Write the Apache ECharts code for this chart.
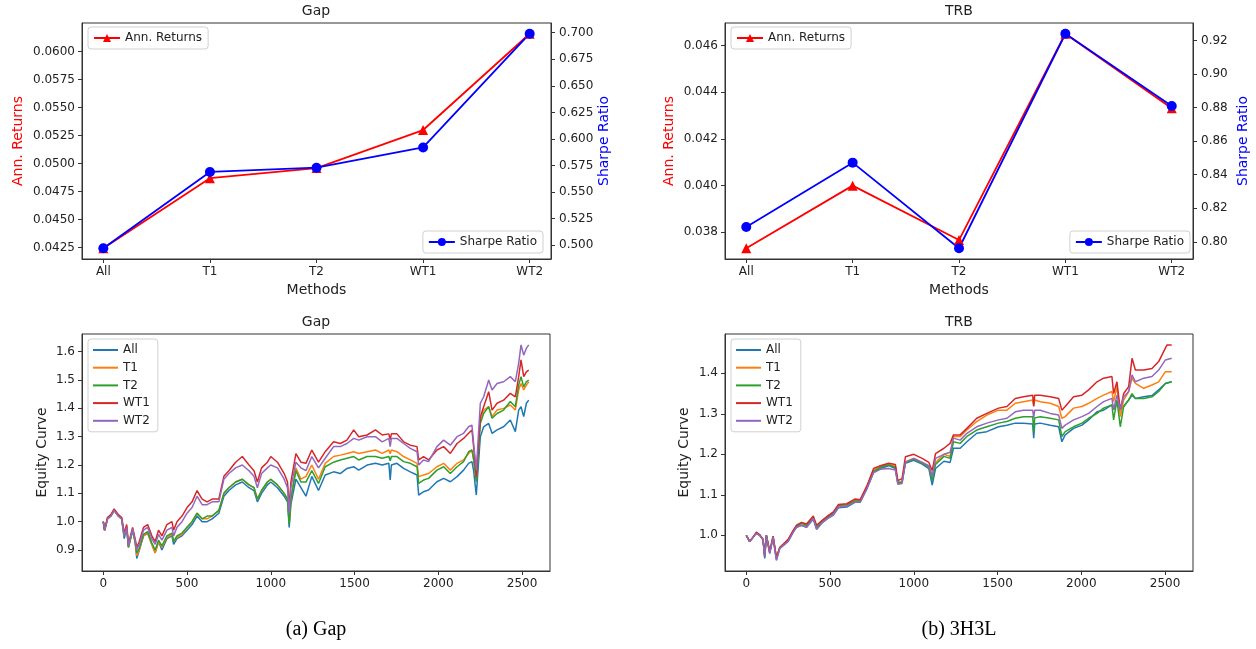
<!DOCTYPE html>
<html>
<head>
<meta charset="utf-8">
<script src="https://cdn.jsdelivr.net/npm/echarts@6/dist/echarts.min.js"></script>
<style>html,body{margin:0;padding:0;background:#fff;}#c{width:1256px;height:649px;}</style>
</head>
<body>
<div id="c"></div>
<script>
// ---------- data ----------
const methods = ['All', 'T1', 'T2', 'WT1', 'WT2'];
const gapRet = [0.04244, 0.0487, 0.0496, 0.0530, 0.0616];
const gapSharpe = [0.4972, 0.569, 0.573, 0.592, 0.699];
const trbRet = [0.03732, 0.0400, 0.03767, 0.0465, 0.04331];
const trbSharpe = [0.8089, 0.8472, 0.7962, 0.924, 0.8809];

const gapRetTicks = [0.0425, 0.045, 0.0475, 0.05, 0.0525, 0.055, 0.0575, 0.06];
const gapSharpeTicks = [0.5, 0.525, 0.55, 0.575, 0.6, 0.625, 0.65, 0.675, 0.7];
const trbRetTicks = [0.038, 0.040, 0.042, 0.044, 0.046];
const trbSharpeTicks = [0.80, 0.82, 0.84, 0.86, 0.88, 0.90, 0.92];
const methodTicks = [0, 1, 2, 3, 4];
const eqXTicks = [0, 500, 1000, 1500, 2000, 2500];
const gapEqTicks = [0.9, 1.0, 1.1, 1.2, 1.3, 1.4, 1.5, 1.6];
const trbEqTicks = [1.0, 1.1, 1.2, 1.3, 1.4];
const eqNames = ['All', 'T1', 'T2', 'WT1', 'WT2'];

const gapX = [0, 8, 25, 45, 65, 90, 110, 125, 140, 150,
  175, 190, 200, 215, 240, 265, 290, 310, 330, 350,
  380, 410, 420, 440, 470, 500, 530, 560, 590, 620,
  650, 690, 720, 750, 790, 830, 870, 900, 920, 945,
  980, 1000, 1040, 1080, 1100, 1110, 1120, 1150, 1180, 1210,
  1245, 1285, 1325, 1375, 1415, 1455, 1495, 1525, 1575, 1625,
  1665, 1705, 1713, 1720, 1753, 1793, 1833, 1873, 1883, 1912,
  1942, 1992, 2032, 2072, 2112, 2151, 2181, 2201, 2211, 2227,
  2251, 2271, 2301, 2321, 2351, 2390, 2430, 2460, 2480, 2494,
  2510, 2526, 2540];
const gapAll = [1.00, 0.97, 1.01, 1.02, 1.04, 1.02, 1.01, 0.94, 0.98, 0.91,
  0.97, 0.93, 0.87, 0.90, 0.95, 0.96, 0.92, 0.89, 0.93, 0.90,
  0.94, 0.95, 0.92, 0.94, 0.95, 0.97, 0.99, 1.02, 1.00, 1.00,
  1.01, 1.03, 1.09, 1.11, 1.13, 1.14, 1.12, 1.11, 1.07, 1.10,
  1.13, 1.14, 1.12, 1.09, 1.07, 0.98, 1.06, 1.15, 1.12, 1.09,
  1.16, 1.11, 1.165, 1.176, 1.17, 1.188, 1.194, 1.182, 1.20, 1.206,
  1.20, 1.206, 1.147, 1.20, 1.206, 1.188, 1.176, 1.165, 1.094, 1.106,
  1.112, 1.141, 1.153, 1.141, 1.159, 1.182, 1.206, 1.212, 1.18, 1.094,
  1.30, 1.335, 1.347, 1.312, 1.324, 1.335, 1.359, 1.318, 1.394, 1.406,
  1.371, 1.418, 1.429];
const gapT1 = [1.00, 0.97, 1.01, 1.02, 1.04, 1.02, 1.01, 0.95, 0.98, 0.91,
  0.97, 0.93, 0.88, 0.90, 0.95, 0.96, 0.92, 0.89, 0.93, 0.91,
  0.945, 0.955, 0.93, 0.945, 0.955, 0.98, 1.00, 1.03, 1.01, 1.01,
  1.02, 1.04, 1.10, 1.12, 1.14, 1.15, 1.13, 1.12, 1.08, 1.11,
  1.14, 1.15, 1.13, 1.10, 1.08, 1.00, 1.08, 1.19, 1.15, 1.16,
  1.20, 1.15, 1.206, 1.23, 1.235, 1.241, 1.247, 1.241, 1.247, 1.253,
  1.241, 1.253, 1.24, 1.253, 1.247, 1.23, 1.218, 1.206, 1.159, 1.165,
  1.17, 1.194, 1.206, 1.182, 1.206, 1.218, 1.241, 1.253, 1.22, 1.147,
  1.359, 1.394, 1.406, 1.371, 1.394, 1.40, 1.412, 1.394, 1.465, 1.488,
  1.465, 1.482, 1.494];
const gapT2 = [1.00, 0.97, 1.01, 1.02, 1.04, 1.02, 1.01, 0.95, 0.98, 0.91,
  0.97, 0.93, 0.89, 0.905, 0.955, 0.965, 0.925, 0.90, 0.935, 0.915,
  0.95, 0.96, 0.93, 0.95, 0.96, 0.98, 1.00, 1.03, 1.01, 1.02,
  1.02, 1.04, 1.10, 1.12, 1.14, 1.15, 1.13, 1.12, 1.08, 1.11,
  1.14, 1.15, 1.13, 1.10, 1.08, 0.99, 1.08, 1.18, 1.14, 1.14,
  1.18, 1.135, 1.194, 1.21, 1.218, 1.224, 1.23, 1.218, 1.23, 1.23,
  1.224, 1.23, 1.215, 1.23, 1.23, 1.212, 1.206, 1.194, 1.135, 1.147,
  1.153, 1.182, 1.194, 1.17, 1.194, 1.212, 1.247, 1.253, 1.22, 1.141,
  1.347, 1.382, 1.406, 1.365, 1.382, 1.394, 1.424, 1.406, 1.482, 1.512,
  1.476, 1.494, 1.50];
const gapWT1 = [1.00, 0.97, 1.015, 1.025, 1.045, 1.025, 1.015, 0.96, 0.99, 0.92,
  0.98, 0.94, 0.91, 0.93, 0.98, 0.99, 0.95, 0.93, 0.97, 0.95,
  0.99, 1.00, 0.97, 1.00, 1.02, 1.05, 1.07, 1.11, 1.08, 1.07,
  1.08, 1.08, 1.16, 1.18, 1.21, 1.23, 1.20, 1.18, 1.14, 1.19,
  1.21, 1.23, 1.21, 1.17, 1.14, 1.05, 1.14, 1.24, 1.21, 1.206,
  1.253, 1.21, 1.247, 1.282, 1.276, 1.288, 1.324, 1.30, 1.306, 1.324,
  1.306, 1.31, 1.29, 1.31, 1.31, 1.282, 1.27, 1.265, 1.218, 1.23,
  1.218, 1.253, 1.265, 1.241, 1.276, 1.294, 1.312, 1.324, 1.265, 1.159,
  1.37, 1.406, 1.459, 1.394, 1.418, 1.429, 1.453, 1.441, 1.512, 1.571,
  1.512, 1.529, 1.535];
const gapWT2 = [1.00, 0.97, 1.01, 1.02, 1.04, 1.02, 1.01, 0.95, 0.98, 0.915,
  0.975, 0.935, 0.90, 0.92, 0.97, 0.98, 0.94, 0.92, 0.955, 0.935,
  0.97, 0.98, 0.95, 0.98, 1.00, 1.03, 1.05, 1.09, 1.06, 1.06,
  1.07, 1.07, 1.15, 1.17, 1.19, 1.20, 1.18, 1.16, 1.12, 1.17,
  1.19, 1.20, 1.19, 1.15, 1.12, 1.03, 1.12, 1.21, 1.19, 1.18,
  1.23, 1.19, 1.224, 1.265, 1.265, 1.276, 1.294, 1.288, 1.30, 1.30,
  1.282, 1.294, 1.265, 1.294, 1.294, 1.276, 1.259, 1.247, 1.20, 1.218,
  1.212, 1.265, 1.288, 1.27, 1.30, 1.312, 1.335, 1.341, 1.276, 1.182,
  1.418, 1.441, 1.50, 1.465, 1.488, 1.494, 1.512, 1.494, 1.559, 1.624,
  1.588, 1.612, 1.624];

const trbX = [0, 20, 40, 60, 80, 100, 110, 120, 140, 160,
  180, 200, 250, 280, 300, 330, 360, 400, 420, 450,
  480, 520, 550, 600, 650, 680, 720, 760, 800, 850,
  890, 905, 930, 950, 1000, 1050, 1090, 1110, 1130, 1180,
  1217, 1237, 1277, 1317, 1376, 1436, 1506, 1556, 1606, 1655,
  1710, 1716, 1722, 1755, 1815, 1865, 1884, 1904, 1954, 2004,
  2044, 2094, 2133, 2183, 2193, 2213, 2233, 2253, 2283, 2303,
  2323, 2373, 2422, 2462, 2502, 2512, 2540];
const trbAll = [1.00, 0.985, 0.995, 1.005, 1.00, 0.99, 0.943, 1.00, 0.956, 0.995,
  0.94, 0.968, 0.985, 1.008, 1.02, 1.025, 1.02, 1.04, 1.015, 1.03,
  1.04, 1.05, 1.068, 1.07, 1.082, 1.082, 1.115, 1.155, 1.165, 1.172,
  1.165, 1.128, 1.13, 1.178, 1.185, 1.176, 1.165, 1.124, 1.165, 1.183,
  1.18, 1.215, 1.215, 1.231, 1.252, 1.256, 1.268, 1.272, 1.277, 1.277,
  1.275, 1.24, 1.275, 1.277, 1.272, 1.268, 1.231, 1.248, 1.264, 1.272,
  1.285, 1.305, 1.309, 1.322, 1.31, 1.326, 1.31, 1.318, 1.334, 1.346,
  1.338, 1.342, 1.345, 1.359, 1.375, 1.379, 1.379];
const trbT1 = [1.00, 0.985, 0.995, 1.006, 1.00, 0.99, 0.95, 1.00, 0.96, 0.997,
  0.945, 0.97, 0.988, 1.01, 1.022, 1.03, 1.025, 1.045, 1.02, 1.035,
  1.045, 1.055, 1.075, 1.076, 1.086, 1.086, 1.12, 1.16, 1.17, 1.176,
  1.17, 1.13, 1.133, 1.182, 1.19, 1.18, 1.17, 1.15, 1.18, 1.20,
  1.195, 1.244, 1.244, 1.26, 1.281, 1.297, 1.309, 1.309, 1.326, 1.33,
  1.334, 1.32, 1.334, 1.33, 1.326, 1.318, 1.289, 1.293, 1.314, 1.318,
  1.326, 1.338, 1.346, 1.355, 1.33, 1.367, 1.293, 1.334, 1.355, 1.388,
  1.375, 1.363, 1.371, 1.379, 1.404, 1.404, 1.404];
const trbT2 = [1.00, 0.985, 0.995, 1.006, 1.00, 0.99, 0.948, 1.00, 0.958, 0.996,
  0.943, 0.97, 0.988, 1.01, 1.022, 1.03, 1.024, 1.044, 1.02, 1.035,
  1.044, 1.056, 1.074, 1.075, 1.085, 1.085, 1.118, 1.158, 1.168, 1.174,
  1.168, 1.13, 1.132, 1.18, 1.188, 1.178, 1.17, 1.135, 1.175, 1.195,
  1.19, 1.231, 1.227, 1.244, 1.26, 1.268, 1.277, 1.281, 1.289, 1.293,
  1.293, 1.255, 1.29, 1.293, 1.289, 1.285, 1.244, 1.256, 1.268, 1.277,
  1.289, 1.301, 1.314, 1.322, 1.285, 1.334, 1.268, 1.318, 1.334, 1.35,
  1.338, 1.338, 1.342, 1.355, 1.375, 1.379, 1.379];
const trbWT1 = [1.00, 0.985, 0.995, 1.008, 1.002, 0.99, 0.95, 1.00, 0.96, 0.998,
  0.945, 0.97, 0.99, 1.012, 1.025, 1.032, 1.028, 1.048, 1.025, 1.036,
  1.046, 1.058, 1.076, 1.078, 1.09, 1.088, 1.122, 1.165, 1.172, 1.178,
  1.175, 1.135, 1.14, 1.194, 1.20, 1.19, 1.18, 1.16, 1.202, 1.215,
  1.227, 1.248, 1.248, 1.264, 1.289, 1.301, 1.314, 1.318, 1.338, 1.342,
  1.346, 1.318, 1.346, 1.346, 1.342, 1.338, 1.309, 1.318, 1.342, 1.346,
  1.359, 1.379, 1.388, 1.392, 1.35, 1.379, 1.309, 1.35, 1.367, 1.437,
  1.408, 1.408, 1.412, 1.429, 1.462, 1.47, 1.47];
const trbWT2 = [1.00, 0.985, 0.995, 1.005, 1.00, 0.99, 0.948, 1.00, 0.955, 0.995,
  0.938, 0.968, 0.985, 1.008, 1.02, 1.025, 1.02, 1.042, 1.015, 1.03,
  1.04, 1.052, 1.07, 1.072, 1.082, 1.082, 1.115, 1.155, 1.163, 1.165,
  1.161, 1.126, 1.128, 1.18, 1.19, 1.18, 1.172, 1.145, 1.19, 1.20,
  1.205, 1.24, 1.235, 1.252, 1.268, 1.277, 1.285, 1.289, 1.305, 1.309,
  1.309, 1.29, 1.309, 1.309, 1.301, 1.297, 1.264, 1.272, 1.285, 1.293,
  1.301, 1.318, 1.33, 1.338, 1.31, 1.346, 1.31, 1.342, 1.355, 1.396,
  1.379, 1.388, 1.392, 1.408, 1.433, 1.437, 1.437];

// ---------- styling ----------
const FONT = 'DejaVu Sans';
const INK = '#222';
const eqColors = ['#1f77b4', '#ff7f0e', '#2ca02c', '#d62728', '#9467bd'];

function gridBox(left, top, width, height) {
  return { left, top, width, height, show: true, borderColor: '#333', borderWidth: 1, backgroundColor: 'transparent' };
}
function baseAxis(extra) {
  return Object.assign({
    type: 'value',
    splitLine: { show: false },
    axisLine: { show: true, onZero: false, lineStyle: { color: '#333', width: 1 } },
    axisTick: { show: true, length: 4, lineStyle: { color: '#333' } },
    nameTextStyle: { fontFamily: FONT, fontSize: 14, color: INK },
  }, extra);
}
function labelStyle(ticks, fmt, margin) {
  return { customValues: ticks, formatter: fmt, fontFamily: FONT, fontSize: 12, color: INK, margin: margin };
}
function legendBox(extra) {
  return Object.assign({
    orient: 'vertical',
    backgroundColor: 'rgba(255,255,255,0.85)',
    borderColor: '#d0d0d0', borderWidth: 1, borderRadius: 3,
    padding: [5, 6, 5, 5],
    itemWidth: 26, itemHeight: 10, itemGap: 4,
    textStyle: { fontFamily: FONT, fontSize: 12, color: INK },
    selectedMode: false,
  }, extra);
}
function titleAt(text, x, y, serif) {
  return {
    text, left: x, top: y, textAlign: 'center', padding: 0,
    textStyle: serif
      ? { fontFamily: 'Liberation Serif', fontSize: 20, fontWeight: 'normal', color: '#000' }
      : { fontFamily: FONT, fontSize: 14, fontWeight: 'normal', color: INK },
  };
}

const methodAxis = (gi) => baseAxis({
  gridIndex: gi, min: -0.2, max: 4.2,
  axisLabel: labelStyle(methodTicks, v => methods[Math.round(v)], 7),
  axisTick: { show: true, length: 4, customValues: methodTicks, lineStyle: { color: '#333' } },
  name: 'Methods', nameLocation: 'middle', nameGap: 24,
});
const eqXAxis = (gi) => baseAxis({
  gridIndex: gi, min: -127, max: 2667,
  axisLabel: labelStyle(eqXTicks, v => String(Math.round(v)), 7),
  axisTick: { show: true, length: 4, customValues: eqXTicks, lineStyle: { color: '#333' } },
});

const option = {
  animation: false,
  backgroundColor: '#fff',
  textStyle: { fontFamily: FONT },
  title: [
    titleAt('Gap', 316, 4), titleAt('TRB', 959, 4),
    titleAt('Gap', 316, 315), titleAt('TRB', 959, 315),
    titleAt('(a) Gap', 316, 620, true), titleAt('(b) 3H3L', 959, 620, true),
  ],
  grid: [
    gridBox(82, 23, 469, 236),
    gridBox(725, 23, 468, 236),
    gridBox(82, 334, 468, 237),
    gridBox(725, 334, 468, 237),
  ],
  xAxis: [methodAxis(0), methodAxis(1), eqXAxis(2), eqXAxis(3)],
  yAxis: [
    baseAxis({ gridIndex: 0, position: 'left', min: 0.04148, max: 0.06256,
      axisLabel: labelStyle(gapRetTicks, v => v.toFixed(4), 7),
      axisTick: { show: true, length: 4, customValues: gapRetTicks, lineStyle: { color: '#333' } },
      name: 'Ann. Returns', nameLocation: 'middle', nameGap: 57,
      nameTextStyle: { fontFamily: FONT, fontSize: 14, color: '#ff0000' } }),
    baseAxis({ gridIndex: 0, position: 'right', min: 0.4871, max: 0.7091,
      axisLabel: labelStyle(gapSharpeTicks, v => v.toFixed(3), 8),
      axisTick: { show: true, length: 4, customValues: gapSharpeTicks, lineStyle: { color: '#333' } },
      name: 'Sharpe Ratio', nameLocation: 'middle', nameGap: 46,
      nameTextStyle: { fontFamily: FONT, fontSize: 14, color: '#0000ff' } }),
    baseAxis({ gridIndex: 1, position: 'left', min: 0.03686, max: 0.04696,
      axisLabel: labelStyle(trbRetTicks, v => v.toFixed(3), 7),
      axisTick: { show: true, length: 4, customValues: trbRetTicks, lineStyle: { color: '#333' } },
      name: 'Ann. Returns', nameLocation: 'middle', nameGap: 49,
      nameTextStyle: { fontFamily: FONT, fontSize: 14, color: '#ff0000' } }),
    baseAxis({ gridIndex: 1, position: 'right', min: 0.7898, max: 0.9304,
      axisLabel: labelStyle(trbSharpeTicks, v => v.toFixed(2), 8),
      axisTick: { show: true, length: 4, customValues: trbSharpeTicks, lineStyle: { color: '#333' } },
      name: 'Sharpe Ratio', nameLocation: 'middle', nameGap: 43,
      nameTextStyle: { fontFamily: FONT, fontSize: 14, color: '#0000ff' } }),
    baseAxis({ gridIndex: 2, position: 'left', min: 0.826, max: 1.6625,
      axisLabel: labelStyle(gapEqTicks, v => v.toFixed(1), 7),
      axisTick: { show: true, length: 4, customValues: gapEqTicks, lineStyle: { color: '#333' } },
      name: 'Equity Curve', nameLocation: 'middle', nameGap: 33 }),
    baseAxis({ gridIndex: 3, position: 'left', min: 0.912, max: 1.497,
      axisLabel: labelStyle(trbEqTicks, v => v.toFixed(1), 7),
      axisTick: { show: true, length: 4, customValues: trbEqTicks, lineStyle: { color: '#333' } },
      name: 'Equity Curve', nameLocation: 'middle', nameGap: 34 }),
  ],
  legend: [
    legendBox({ data: ['Ann. Returns'], left: 88, top: 27 }),
    legendBox({ data: ['Sharpe Ratio'], right: 713, top: 231 }),
    legendBox({ data: ['Ann. Returns'], left: 731, top: 27 }),
    legendBox({ data: ['Sharpe Ratio'], right: 66, top: 231 }),
    legendBox({ data: eqNames, left: 88, top: 339, icon: 'rect', itemHeight: 2, itemGap: 5.7, itemWidth: 25, padding: [5, 8, 5, 5] }),
    legendBox({ data: eqNames, left: 731, top: 339, icon: 'rect', itemHeight: 2, itemGap: 5.7, itemWidth: 25, padding: [5, 8, 5, 5] }),
  ],
  series: [],
};

function topSeries(xi, yRet, ySh, ret, sh) {
  option.series.push({
    type: 'line', name: 'Ann. Returns', xAxisIndex: xi, yAxisIndex: yRet,
    data: ret.map((v, i) => [i, v]),
    symbol: 'triangle', symbolSize: 10, color: '#ff0000',
    lineStyle: { width: 1.8, color: '#ff0000' }, itemStyle: { color: '#ff0000' },
  });
  option.series.push({
    type: 'line', name: 'Sharpe Ratio', xAxisIndex: xi, yAxisIndex: ySh,
    data: sh.map((v, i) => [i, v]),
    symbol: 'circle', symbolSize: 10, color: '#0000ff',
    lineStyle: { width: 1.8, color: '#0000ff' }, itemStyle: { color: '#0000ff' },
  });
}
topSeries(0, 0, 1, gapRet, gapSharpe);
topSeries(1, 2, 3, trbRet, trbSharpe);

function eqSeries(xi, yi, xs, arrs) {
  arrs.forEach((arr, k) => {
    option.series.push({
      type: 'line', name: eqNames[k], xAxisIndex: xi, yAxisIndex: yi,
      data: xs.map((x, i) => [x, arr[i]]),
      symbol: 'none', showSymbol: false, color: eqColors[k],
      lineStyle: { width: 1.5, color: eqColors[k] },
    });
  });
}
eqSeries(2, 4, gapX, [gapAll, gapT1, gapT2, gapWT1, gapWT2]);
eqSeries(3, 5, trbX, [trbAll, trbT1, trbT2, trbWT1, trbWT2]);

const chart = echarts.init(document.getElementById('c'), null, { renderer: 'canvas' });
chart.setOption(option);
</script>
</body>
</html>
